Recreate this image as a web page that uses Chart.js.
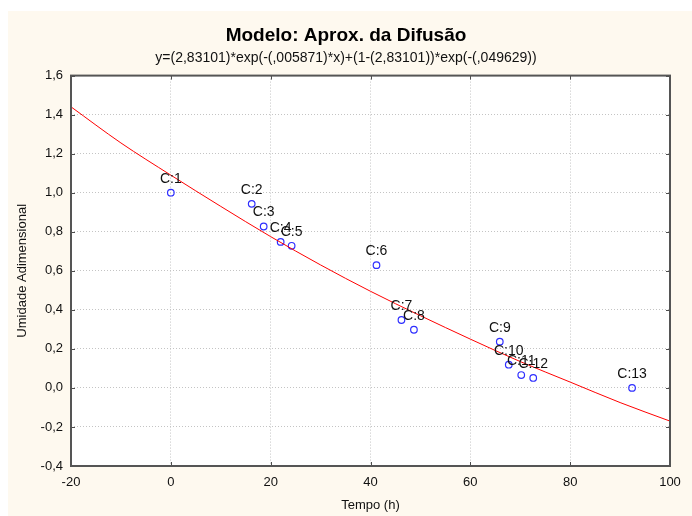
<!doctype html>
<html lang="pt">
<head>
  <meta charset="utf-8" />
  <title>Modelo: Aprox. da Difusão</title>
  <script src="https://cdn.jsdelivr.net/npm/chart.js"></script>
  <style>
    html, body { margin: 0; padding: 0; background: #ffffff; }
    .wrap { position: relative; width: 692px; height: 516px; overflow: hidden; }
    .paper { position: absolute; left: 8px; top: 11px; right: 0; bottom: 0; background: #fef9ef; }
    canvas { position: absolute; left: 0; top: 0; }
  </style>
</head>
<body>
  <div class="wrap">
    <div class="paper"></div>
    <canvas id="chart" width="692" height="516"></canvas>
  </div>

  <script>
    const pointLabels = ['C:1', 'C:2', 'C:3', 'C:4', 'C:5', 'C:6', 'C:7', 'C:8', 'C:9', 'C:10', 'C:11', 'C:12', 'C:13'];
    const pointX = [0, 16.2, 18.6, 22.0, 24.2, 41.2, 46.2, 48.7, 65.9, 67.7, 70.2, 72.6, 92.4];
    const pointY = [1.0, 0.943, 0.827, 0.748, 0.728, 0.629, 0.348, 0.298, 0.237, 0.119, 0.066, 0.051, 0.0];

    // fitted curve
    const fitX = [-20, -10, 0, 10, 20, 30, 40, 50, 60, 70, 80, 90, 100];
    const fitY = [1.44, 1.255, 1.09, 0.93, 0.775, 0.63, 0.495, 0.37, 0.25, 0.135, 0.03, -0.075, -0.17];

    const xTicks = [-20, 0, 20, 40, 60, 80, 100];
    const yTicks = [-0.4, -0.2, 0.0, 0.2, 0.4, 0.6, 0.8, 1.0, 1.2, 1.4, 1.6];

    const FONT = "'Liberation Sans', Arial, sans-serif";

    const frameAndTicks = {
      id: 'frameAndTicks',
      beforeDatasetsDraw(chart) {
        const { ctx, chartArea: a } = chart;
        ctx.save();
        ctx.fillStyle = '#ffffff';
        ctx.fillRect(a.left, a.top, a.right - a.left, a.bottom - a.top);
        ctx.restore();
        // redraw grid over the white fill
        chart.scales.x.drawGrid(a);
        chart.scales.y.drawGrid(a);
      },
      afterDatasetsDraw(chart) {
        const { ctx, chartArea: a, scales } = chart;
        ctx.save();
        ctx.strokeStyle = '#4d4d4d';
        ctx.lineWidth = 1;
        ctx.beginPath();
        for (const v of xTicks) {
          const px = Math.round(scales.x.getPixelForValue(v)) + 0.5;
          ctx.moveTo(px, a.bottom); ctx.lineTo(px, a.bottom - 4);
          ctx.moveTo(px, a.top); ctx.lineTo(px, a.top + 4);
        }
        for (const v of yTicks) {
          const py = Math.round(scales.y.getPixelForValue(v)) + 0.5;
          ctx.moveTo(a.left, py); ctx.lineTo(a.left + 4, py);
          ctx.moveTo(a.right, py); ctx.lineTo(a.right - 4, py);
        }
        ctx.stroke();
        ctx.lineWidth = 2;
        ctx.strokeStyle = '#555555';
        ctx.strokeRect(a.left, a.top, a.right - a.left, a.bottom - a.top);
        ctx.restore();
      }
    };

    const pointNames = {
      id: 'pointNames',
      afterDatasetsDraw(chart) {
        const { ctx } = chart;
        const meta = chart.getDatasetMeta(1);
        ctx.save();
        ctx.font = '14px ' + FONT;
        ctx.fillStyle = '#111111';
        ctx.textAlign = 'center';
        ctx.textBaseline = 'middle';
        meta.data.forEach((el, i) => {
          ctx.fillText(pointLabels[i], el.x, el.y - 14);
        });
        ctx.restore();
      }
    };

    new Chart(document.getElementById('chart'), {
      type: 'scatter',
      data: {
        datasets: [
          {
            type: 'line',
            label: 'Modelo',
            data: fitX.map((x, i) => ({ x, y: fitY[i] })),
            borderColor: '#ff0000',
            borderWidth: 1,
            pointRadius: 0,
            fill: false,
            cubicInterpolationMode: 'monotone'
          },
          {
            label: 'Observado',
            data: pointX.map((x, i) => ({ x, y: pointY[i] })),
            borderColor: '#2f2fff',
            backgroundColor: 'rgba(0,0,0,0)',
            borderWidth: 1.2,
            pointRadius: 3.3
          }
        ]
      },
      options: {
        responsive: false,
        animation: false,
        devicePixelRatio: 1,
        layout: { padding: 0 },
        plugins: {
          legend: { display: false },
          tooltip: { enabled: false },
          title: {
            display: true,
            text: 'Modelo: Aprox. da Difusão',
            color: '#000000',
            font: { family: FONT, size: 19, weight: 'bold' },
            padding: { top: 24, bottom: 0 }
          },
          subtitle: {
            display: true,
            text: 'y=(2,83101)*exp(-(,005871)*x)+(1-(2,83101))*exp(-(,049629))',
            color: '#111111',
            font: { family: FONT, size: 14 },
            padding: { top: 3, bottom: 9 }
          }
        },
        scales: {
          x: {
            type: 'linear',
            min: -20,
            max: 100,
            afterFit(scale) { scale.height = 50; },
            ticks: {
              stepSize: 20,
              padding: 9,
              color: '#111111',
              font: { family: FONT, size: 13 }
            },
            grid: { color: '#c4c4c4', lineWidth: 1, drawTicks: false },
            border: { display: false, dash: [1, 2] },
            title: {
              display: true,
              text: 'Tempo (h)',
              color: '#111111',
              font: { family: FONT, size: 13 },
              padding: { top: 0, bottom: 3 }
            }
          },
          y: {
            type: 'linear',
            min: -0.4,
            max: 1.6,
            afterFit(scale) { scale.width = 71; },
            ticks: {
              stepSize: 0.2,
              padding: 8,
              color: '#111111',
              font: { family: FONT, size: 13 },
              callback: (v) => v.toFixed(1).replace('.', ',')
            },
            grid: { color: '#c4c4c4', lineWidth: 1, drawTicks: false },
            border: { display: false, dash: [1, 2] },
            title: {
              display: true,
              text: 'Umidade Adimensional',
              color: '#111111',
              font: { family: FONT, size: 13 },
              padding: { top: 15, bottom: 0 }
            }
          },
          // empty right-hand strip so the plot ends where the reference's does
          yRight: {
            type: 'linear',
            position: 'right',
            afterFit(scale) { scale.width = 22; },
            ticks: { display: false },
            grid: { display: false },
            border: { display: false }
          }
        }
      },
      plugins: [frameAndTicks, pointNames]
    });
  </script>
</body>
</html>
